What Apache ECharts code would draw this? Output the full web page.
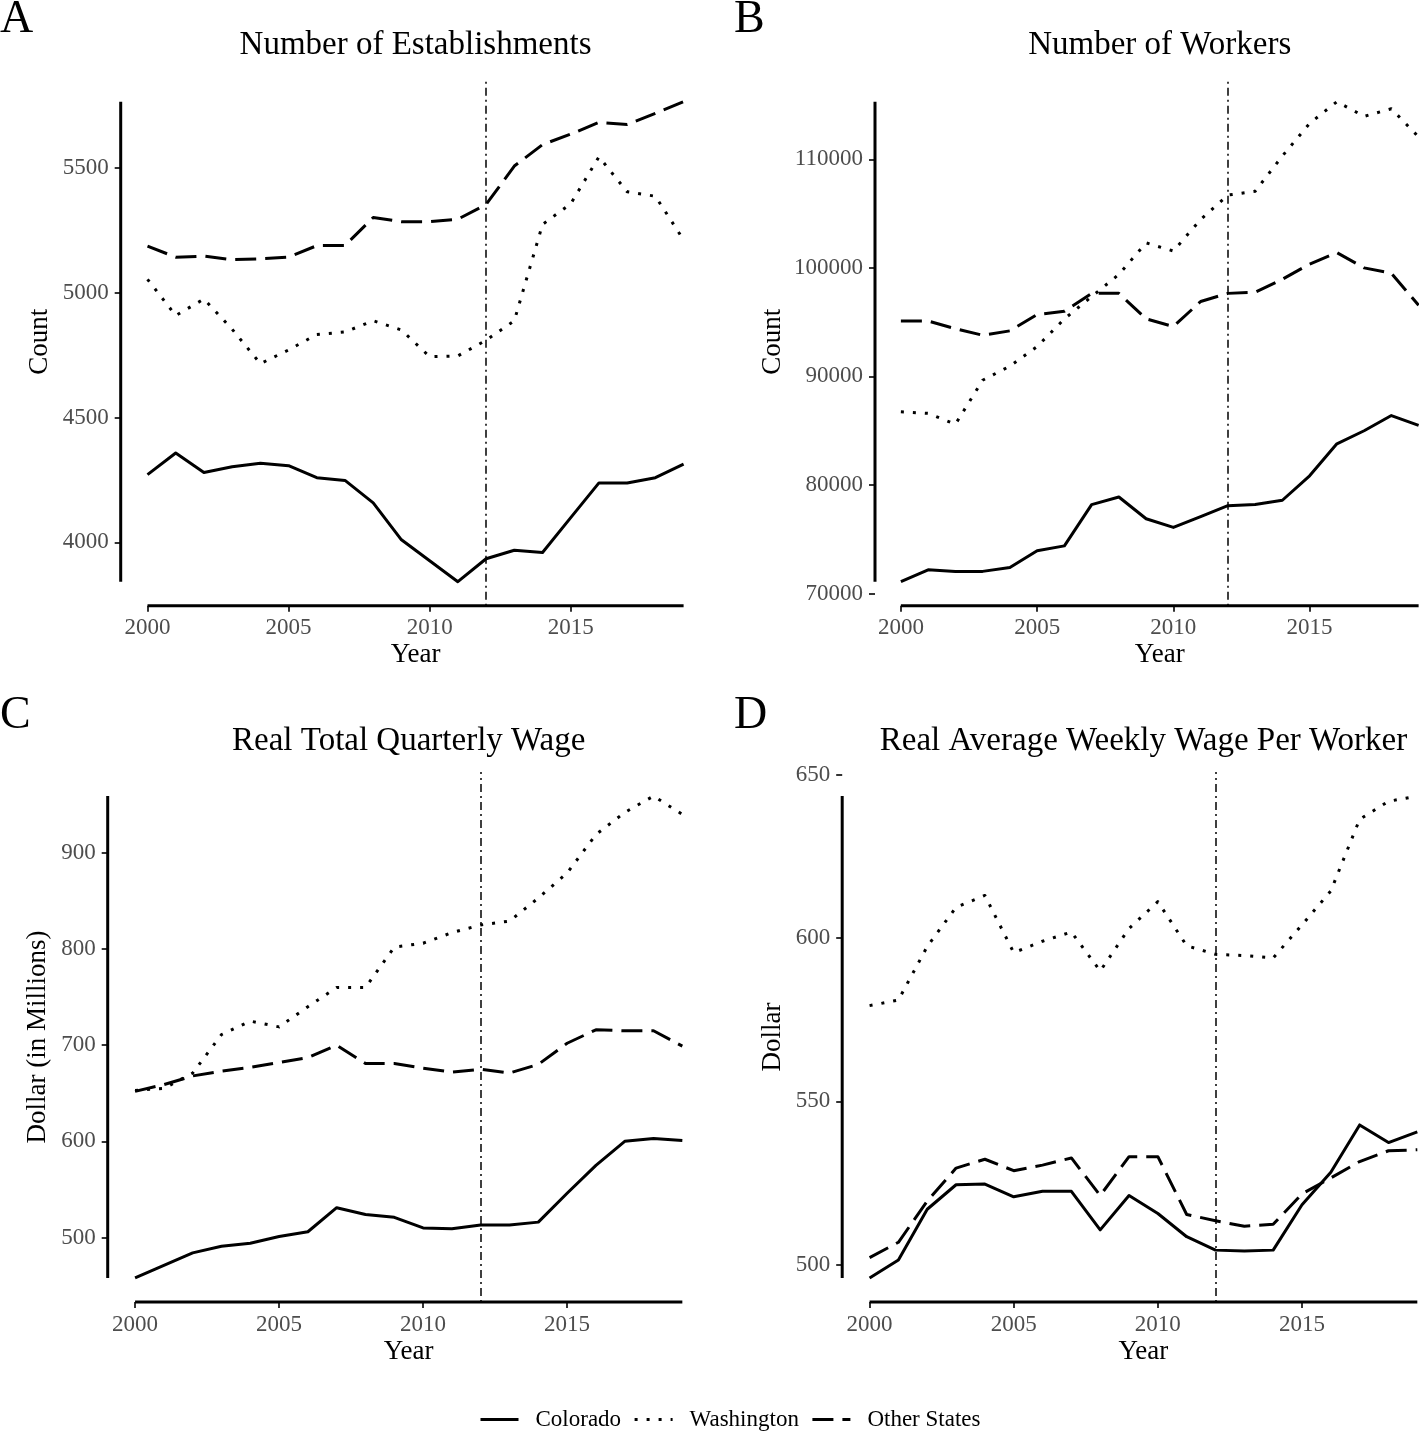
<!DOCTYPE html>
<html><head><meta charset="utf-8">
<script src="https://cdn.jsdelivr.net/npm/echarts@6/dist/echarts.min.js"></script>
<style>html,body{margin:0;padding:0;background:#fff;overflow:hidden}#c{width:1470px;height:1431px}</style>
</head><body><div id="c"></div>
<script>
// ---------------- DATA ----------------
const years = [2000,2001,2002,2003,2004,2005,2006,2007,2008,2009,2010,2011,2012,2013,2014,2015,2016,2017,2018,2019];
const xTicks = [2000,2005,2010,2015];
const policyYear = 2012;
const seriesNames = ['Colorado','Washington','Other States'];

const estColorado   = [4271,4358,4280,4303,4317,4307,4259,4248,4158,4010,3926,3842,3934,3968,3959,4099,4238,4238,4259,4313];
const estWashington = [5054,4909,4975,4854,4716,4771,4833,4843,4888,4851,4744,4747,4810,4888,5274,5357,5545,5405,5387,5212];
const estOther      = [5187,5143,5147,5133,5136,5143,5189,5190,5302,5285,5285,5295,5354,5508,5594,5636,5683,5675,5719,5766];
const estTicks = [4000,4500,5000,5500];

const workersColorado   = [71100,72200,72050,72050,72400,73950,74400,78200,78900,76900,76100,77100,78100,78200,78600,80850,83800,85000,86400,85500];
const workersWashington = [86750,86600,85600,89650,90950,92750,95300,97350,99400,102300,101550,104450,106700,107050,110300,113300,115300,113950,114650,112050];
const workersOther      = [95100,95100,94400,93800,94200,95700,96000,97650,97650,95300,94600,96900,97650,97750,98950,100350,101400,100000,99500,96550];
const workerTicks = [70000,80000,90000,100000,110000];

const totalWageColorado   = [458,471,484,491,494,501,506,531,524,521,510,509,513,513,516,546,575,600,603,601];
const totalWageWashington = [653,655,671,711,725,719,740,760,760,802,806,817,825,829,853,879,919,942,959,940];
const totalWageOther      = [652,659,668,673,677,682,687,700,681,681,676,672,675,671,680,702,716,715,715,699];
const totalWageTicks = [500,600,700,800,900];

const weeklyWageColorado   = [496,501.5,517,524.5,524.7,520.8,522.5,522.5,510.7,521.2,515.7,508.6,504.5,504.2,504.5,518.4,528.3,542.8,537.4,540.7];
const weeklyWageWashington = [579.3,581,597.4,609.4,613,595.5,599,601.8,589.9,602.9,611.1,597.6,595,594.6,593.9,604,614.4,636.3,641.8,643.4];
const weeklyWageOther      = [502.2,506.9,519.5,529.6,532.3,528.8,530.5,532.7,521.2,533.1,533.1,515.4,513.5,511.8,512.4,521.7,526.6,531.6,534.9,535.2];
const weeklyWageTicks = [500,550,600,650];

const panelTitles = ['Number of Establishments','Number of Workers','Real Total Quarterly Wage','Real Average Weekly Wage Per Worker'];
const panelLetters = ['A','B','C','D'];
const yNames = ['Count','Count','Dollar (in Millions)','Dollar'];
const xName = 'Year';

// ---------------- LAYOUT ----------------
const FONT = '"Liberation Serif","Times New Roman",serif';
const panelData = [
  [estColorado, estWashington, estOther],
  [workersColorado, workersWashington, workersOther],
  [totalWageColorado, totalWageWashington, totalWageOther],
  [weeklyWageColorado, weeklyWageWashington, weeklyWageOther]
];
const panelTicks = [estTicks, workerTicks, totalWageTicks, weeklyWageTicks];
const layout = [
  {left:120.7, top:77.7, width:589.7, height:528, yGap:67, titleY:45, letterX:0, letterY:20},
  {left:875,   top:77.7, width:569.5, height:528, yGap:89, titleY:45, letterX:734, letterY:20},
  {left:107.7, top:772,  width:602,   height:530, yGap:56, titleY:741, letterX:0, letterY:716},
  {left:842.2, top:772,  width:602.5, height:530, yGap:56, titleY:741, letterX:734, letterY:716}
];
const lineTypes = ['solid', [3,9], [21,9]];

const xDataLo = years[0], xDataHi = years[years.length-1];
const xLo = xDataLo - 0.05*(xDataHi-xDataLo), xHi = xDataHi + 0.05*(xDataHi-xDataLo);

const grids=[], xAxes=[], yAxes=[], series=[], graphics=[];
layout.forEach((p,i)=>{
  let lo=Infinity, hi=-Infinity;
  panelData[i].forEach(a=>a.forEach(v=>{lo=Math.min(lo,v);hi=Math.max(hi,v);}));
  const yLo = lo-0.05*(hi-lo), yHi = hi+0.05*(hi-lo);
  grids.push({left:p.left, top:p.top, width:p.width, height:p.height, containLabel:false});
  xAxes.push({
    gridIndex:i, type:'value', min:xLo, max:xHi,
    axisLine:{show:false}, splitLine:{show:false},
    axisTick:{show:true, customValues:xTicks, length:6, lineStyle:{color:'#333', width:2}},
    axisLabel:{customValues:xTicks, margin:11, color:'#4D4D4D', fontSize:23, fontFamily:FONT, formatter:v=>String(v)},
    name:xName, nameLocation:'middle', nameGap:36,
    nameTextStyle:{fontSize:27, color:'#000', fontFamily:FONT}
  });
  yAxes.push({
    gridIndex:i, type:'value', min:yLo, max:yHi,
    axisLine:{show:false}, splitLine:{show:false},
    axisTick:{show:true, customValues:panelTicks[i], length:6, lineStyle:{color:'#333', width:2}},
    axisLabel:{customValues:panelTicks[i], margin:12, color:'#4D4D4D', fontSize:23, fontFamily:FONT, formatter:v=>String(v)},
    name:yNames[i], nameLocation:'middle', nameGap:p.yGap, nameRotate:90,
    nameTextStyle:{fontSize:27, color:'#000', fontFamily:FONT}
  });
  panelData[i].forEach((arr,k)=>{
    const s = {
      type:'line', name:seriesNames[k], xAxisIndex:i, yAxisIndex:i,
      data: years.map((y,j)=>[y, arr[j]]),
      symbol:'none', showSymbol:false, animation:false, silent:true,
      lineStyle:{color:'#000', width:3, type:lineTypes[k], join:'round', cap:'butt'},
      itemStyle:{color:'#000'}
    };
    if(k===0){
      s.markLine = {silent:true, symbol:'none', label:{show:false}, animation:false,
        lineStyle:{color:'#000', width:1.5, type:[2,4,8,4]},
        data:[{xAxis:policyYear}]};
    }
    series.push(s);
  });
  // range-frame axis lines (span the data range)
  series.push({type:'line', xAxisIndex:i, yAxisIndex:i, clip:false, symbol:'none', silent:true, animation:false,
    data:[[xLo, lo],[xLo, hi]], lineStyle:{color:'#000', width:3, cap:'butt'}});
  series.push({type:'line', xAxisIndex:i, yAxisIndex:i, clip:false, symbol:'none', silent:true, animation:false,
    data:[[xDataLo, yLo],[xDataHi, yLo]], lineStyle:{color:'#000', width:3, cap:'butt'}});
  graphics.push({type:'text', silent:true, x:p.left+p.width/2, y:p.titleY,
    style:{text:panelTitles[i], font:'33px '+FONT, fill:'#000', align:'center', verticalAlign:'middle'}});
  graphics.push({type:'text', silent:true, x:p.letterX, y:p.letterY,
    style:{text:panelLetters[i], font:'46px '+FONT, fill:'#000', align:'left', verticalAlign:'middle'}});
});

const chart = echarts.init(document.getElementById('c'), null, {renderer:'canvas'});
chart.setOption({
  backgroundColor:'#fff',
  animation:false,
  grid:grids, xAxis:xAxes, yAxis:yAxes, series:series,
  graphic:graphics,
  legend:{
    data:seriesNames, left:474, top:1403, itemWidth:38, itemHeight:14, itemGap:12,
    itemStyle:{color:'transparent', borderWidth:0, opacity:0},
    lineStyle:{width:3, color:'#000'},
    textStyle:{fontSize:23, color:'#000', fontFamily:FONT, padding:[0,0,0,12]}
  }
});
</script></body></html>
